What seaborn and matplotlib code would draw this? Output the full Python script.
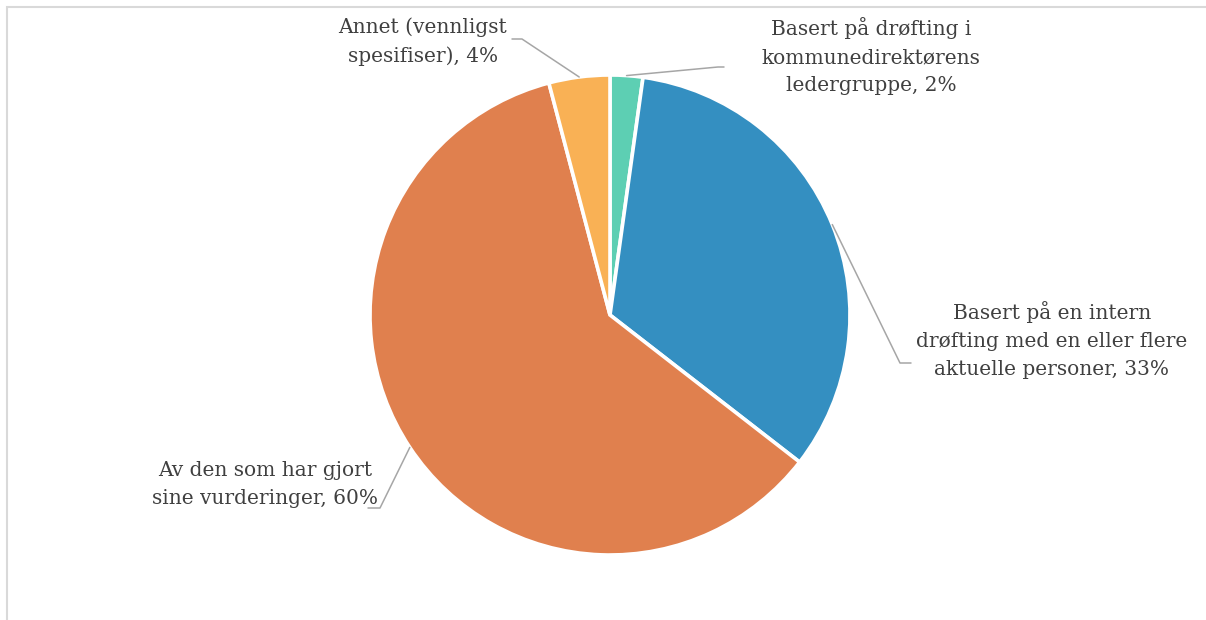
import numpy as np
import seaborn as sns
import matplotlib.pyplot as plt
from matplotlib.patches import Rectangle

# Pie data (clockwise from 12 o'clock)
categories = [
    "Basert på drøfting i\nkommunedirektørens\nledergruppe",
    "Basert på en intern\ndrøfting med en eller flere\naktuelle personer",
    "Av den som har gjort\nsine vurderinger",
    "Annet (vennligst\nspesifiser)",
]
shares = [2.2, 33.3, 60.4, 4.1]
colors = ["#5DCFB3", "#348FC1", "#E0804E", "#F9B155"]

sns.set_theme(style="white")
plt.rcParams['font.family'] = ['DejaVu Serif', 'DejaVu Sans']

W, H = 1206, 620
fig = plt.figure(figsize=(W / 100, H / 100), dpi=100)
ax = fig.add_axes([0, 0, 1, 1])

cx, cy, r = 610, H - 315, 240
wedges, _ = ax.pie(shares, colors=colors, startangle=90, counterclock=False,
                   center=(cx, cy), radius=r, frame=True,
                   wedgeprops=dict(edgecolor='white', linewidth=2.6))
ax.set_xlim(0, W)
ax.set_ylim(0, H)
ax.set_aspect('equal')
ax.axis('off')

# label text centres and leader elbows (pixel coords, y from top)
label_pos = [(871, 56), (1052, 340), (265, 485), (423, 42)]
elbows = [[(718, 67), (724, 67)], [(900, 363), (911, 363)],
          [(380, 508), (368, 508)], [(522, 39), (512, 39)]]

total = sum(shares)
for w, cat, v, (lx, ly), elb in zip(wedges, categories, shares, label_pos, elbows):
    ang = np.deg2rad((w.theta1 + w.theta2) / 2)
    ex, ey = cx + r * np.cos(ang), cy + r * np.sin(ang)
    xs = [ex] + [p[0] for p in elb]
    ys = [ey] + [H - p[1] for p in elb]
    ax.plot(xs, ys, color="#A6A6A6", lw=1.1, zorder=1)
    ax.text(lx, H - ly, f"{cat}, {v / total * 100:.0f}%", ha='center', va='center',
            fontsize=14.5, color="#404040", linespacing=1.6)

# chart frame, cut off at the right and bottom like the screenshot
fig.patches.append(Rectangle((6.5 / W, -0.1), 1.2, (H - 6.5) / H + 0.1, transform=fig.transFigure,
                             fill=False, edgecolor="#D9D9D9", lw=1.5))

fig.savefig("out.png", dpi=100)
